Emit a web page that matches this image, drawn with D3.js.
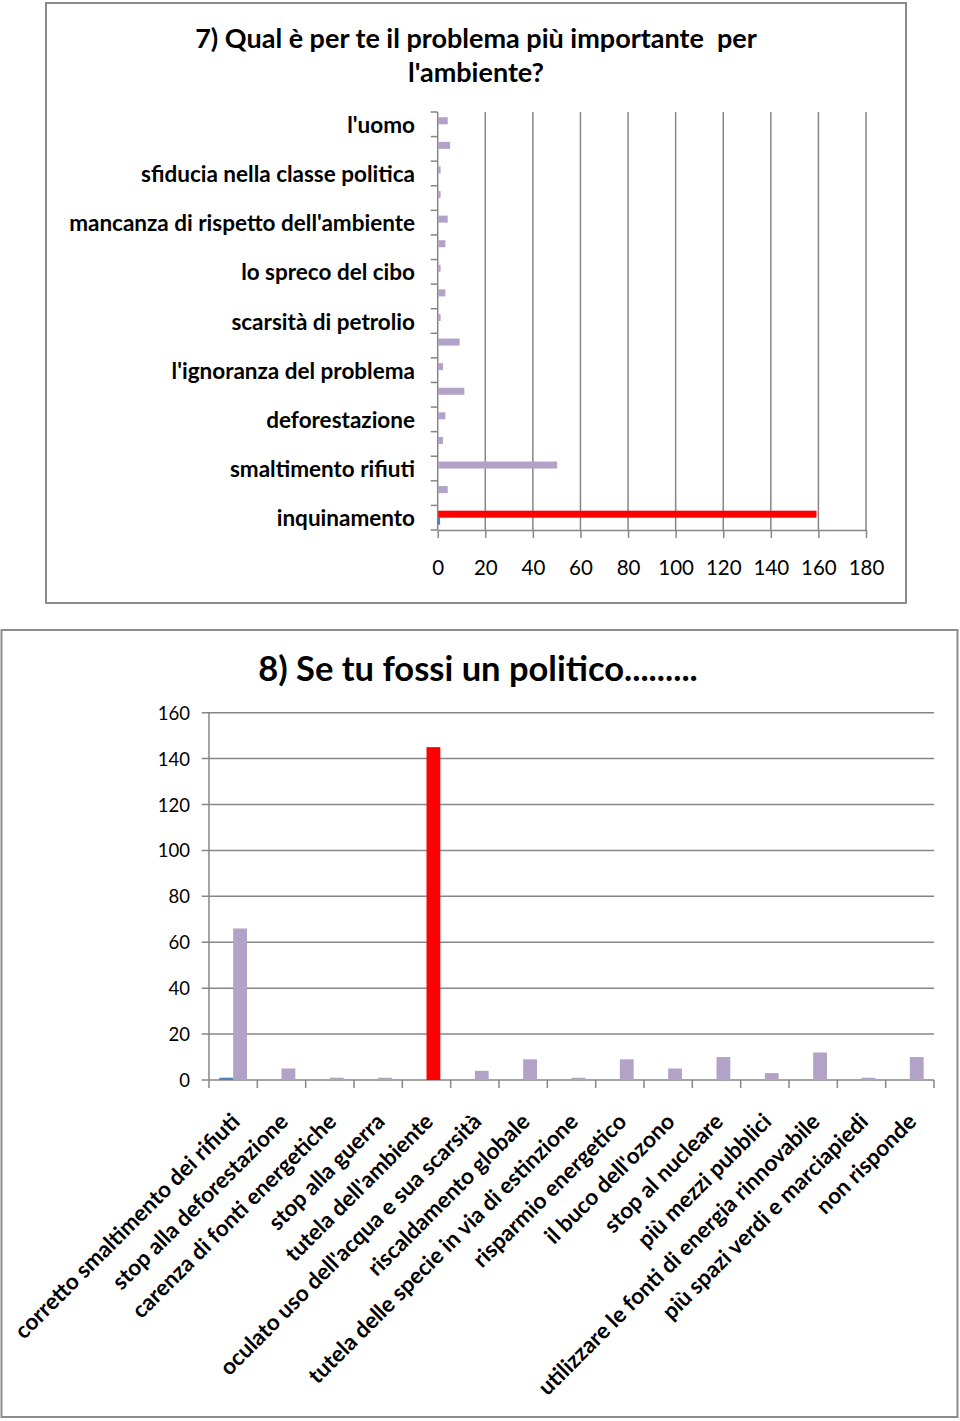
<!DOCTYPE html>
<html><head><meta charset="utf-8">
<script src="https://cdn.jsdelivr.net/npm/d3@7"></script>
<style>body{margin:0;background:#fff}svg{display:block}text{font-family:Lato,"Open Sans",sans-serif;fill:#000}</style>
</head><body><div id="c"></div>
<script>
// ---------- DATA ----------
// Chart 7: categories listed from bottom to top (only every other label is shown)
const cats7 = ["inquinamento","cambiamenti climatici","smaltimento rifiuti","effetto serra","deforestazione","consumo di energia","l'ignoranza del problema","riscaldamento globale","scarsità di petrolio","il buco dell'ozono","lo spreco del cibo","il traffico","mancanza di rispetto dell'ambiente","lo smog","sfiducia nella classe politica","l'inquinamento dell'acqua","l'uomo"];
const series7A = [1,0,0,0,0,0,0,0,0,0,0,0,0,0,0,0,0];
const series7B = [159,4,50,2,3,11,2,9,1,3,1,3,4,1,1,5,4];
const ticks7 = [0,20,40,60,80,100,120,140,160,180];
const title7 = ["7) Qual è per te il problema più importante  per","l'ambiente?"];

// Chart 8
const cats8 = ["corretto smaltimento dei rifiuti","stop alla deforestazione","carenza di fonti energetiche","stop alla guerra","tutela dell'ambiente","oculato uso dell'acqua e sua scarsità","riscaldamento globale","tutela delle specie in via di estinzione","risparmio energetico","il buco dell'ozono","stop al nucleare","più mezzi pubblici","utilizzare le fonti di energia rinnovabile","più spazi verdi e marciapiedi","non risponde"];
const series8A = [1,0,0,0,0,0,0,0,0,0,0,0,0,0,0];
const series8B = [66,5,1,1,145,4,9,1,9,5,10,3,12,1,10];
const ticks8 = [0,20,40,60,80,100,120,140,160];
const title8 = "8) Se tu fossi un politico.........";

// ---------- STYLE ----------
const BLUE="#4F81BD", PURPLE="#B3A2C7", RED="#FF0000", GRID="#868686", FRAME="#8C8C8C";

const svg = d3.select("#c").append("svg").attr("width",960).attr("height",1421);

// ================= CHART 7 =================
const g7 = svg.append("g");
g7.append("rect").attr("x",46).attr("y",3).attr("width",860).attr("height",600)
  .attr("fill","#fff").attr("stroke",FRAME).attr("stroke-width",2);
g7.selectAll("text.title").data(title7).join("text").attr("class","title")
  .attr("x",476).attr("y",(d,i)=>37+i*34).attr("text-anchor","middle").attr("dominant-baseline","central")
  .style("white-space","pre").attr("font-size",27).attr("font-weight","bold").text(d=>d);

const x7 = d3.scaleLinear().domain([0,180]).range([437.7,866]);
const y7 = d3.scaleBand().domain(cats7).range([530,112]);
const s7 = d3.scaleBand().domain(["B","A"]).range([0,y7.bandwidth()]).paddingInner(0).paddingOuter(0.75);

// gridlines
g7.selectAll("line.grid").data(ticks7.slice(1)).join("line").attr("class","grid")
  .attr("x1",d=>x7(d)).attr("x2",d=>x7(d)).attr("y1",112).attr("y2",530)
  .attr("stroke",GRID).attr("stroke-width",1.5);
// bottom axis
const ax7 = g7.append("g").attr("transform","translate(0,530)")
  .call(d3.axisBottom(x7).tickValues(ticks7).tickSize(8).tickPadding(22).tickSizeOuter(0));
ax7.select(".domain").attr("stroke",GRID).attr("stroke-width",1.5);
ax7.selectAll(".tick line").attr("stroke",GRID).attr("stroke-width",1.5);
ax7.selectAll(".tick text").attr("font-size",20.5).attr("font-family","Lato,sans-serif").attr("fill","#000");
// left axis with ticks at band boundaries
g7.append("line").attr("x1",x7(0)).attr("x2",x7(0)).attr("y1",112).attr("y2",530).attr("stroke",GRID).attr("stroke-width",1.5);
g7.selectAll("line.ytick").data(d3.range(cats7.length+1)).join("line").attr("class","ytick")
  .attr("x1",x7(0)-7).attr("x2",x7(0)).attr("y1",i=>530-i*y7.step()).attr("y2",i=>530-i*y7.step())
  .attr("stroke",GRID).attr("stroke-width",1.5);
// labels (every other)
g7.selectAll("text.ylab").data(cats7.filter((d,i)=>i%2===0)).join("text").attr("class","ylab")
  .attr("x",415).attr("y",d=>y7(d)+y7.bandwidth()/2).attr("text-anchor","end").attr("dominant-baseline","central")
  .attr("font-size",22.5).attr("font-weight","bold").text(d=>d);
// bars
const max7 = d3.max(series7B);
g7.selectAll("rect.a").data(cats7).join("rect").attr("class","a")
  .attr("x",x7(0)).attr("y",(d)=>y7(d)+s7("A")).attr("height",s7.bandwidth())
  .attr("width",(d,i)=>x7(series7A[i])-x7(0)).attr("fill",BLUE);
g7.selectAll("rect.b").data(cats7).join("rect").attr("class","b")
  .attr("x",x7(0)+0.5).attr("y",(d)=>y7(d)+s7("B")).attr("height",s7.bandwidth())
  .attr("width",(d,i)=>x7(series7B[i])-x7(0)).attr("fill",(d,i)=>series7B[i]===max7?RED:PURPLE);

// ================= CHART 8 =================
const g8 = svg.append("g");
g8.append("rect").attr("x",1.5).attr("y",630).attr("width",956).attr("height",787)
  .attr("fill","#fff").attr("stroke",FRAME).attr("stroke-width",2);
g8.append("text").attr("x",478).attr("y",667).attr("text-anchor","middle").attr("dominant-baseline","central")
  .attr("font-size",34.5).attr("font-weight","bold").text(title8);

const x8 = d3.scaleBand().domain(cats8).range([209,934]);
const y8 = d3.scaleLinear().domain([0,160]).range([1080,712.7]);
const s8 = d3.scaleBand().domain(["A","B"]).range([0,x8.bandwidth()]).paddingInner(0).paddingOuter(0.75);

g8.selectAll("line.grid").data(ticks8).join("line").attr("class","grid")
  .attr("x1",201.7).attr("x2",934).attr("y1",d=>y8(d)).attr("y2",d=>y8(d))
  .attr("stroke",GRID).attr("stroke-width",1.5);
g8.append("line").attr("x1",209).attr("x2",209).attr("y1",y8(160)).attr("y2",y8(0)).attr("stroke",GRID).attr("stroke-width",1.5);
g8.selectAll("text.ylab").data(ticks8).join("text").attr("class","ylab")
  .attr("x",190).attr("y",d=>y8(d)).attr("text-anchor","end").attr("dominant-baseline","central")
  .attr("font-size",18.5).text(d=>d);
g8.selectAll("line.xtick").data(d3.range(cats8.length+1)).join("line").attr("class","xtick")
  .attr("x1",i=>209+i*x8.step()).attr("x2",i=>209+i*x8.step()).attr("y1",1080).attr("y2",1088)
  .attr("stroke",GRID).attr("stroke-width",1.5);
const max8 = d3.max(series8B);
g8.selectAll("rect.a").data(cats8).join("rect").attr("class","a")
  .attr("x",d=>x8(d)+s8("A")).attr("width",s8.bandwidth())
  .attr("y",(d,i)=>y8(series8A[i])).attr("height",(d,i)=>y8(0)-y8(series8A[i])).attr("fill",BLUE);
g8.selectAll("rect.b").data(cats8).join("rect").attr("class","b")
  .attr("x",d=>x8(d)+s8("B")).attr("width",s8.bandwidth())
  .attr("y",(d,i)=>y8(series8B[i])).attr("height",(d,i)=>y8(0)-y8(series8B[i]))
  .attr("fill",(d,i)=>series8B[i]===max8?RED:PURPLE);
g8.selectAll("text.xlab").data(cats8).join("text").attr("class","xlab")
  .attr("transform",d=>`translate(${x8(d)+x8.bandwidth()/2+8},${1123}) rotate(-45)`)
  .attr("text-anchor","end").attr("font-size",22.5).attr("font-weight","bold").text(d=>d);
</script></body></html>
